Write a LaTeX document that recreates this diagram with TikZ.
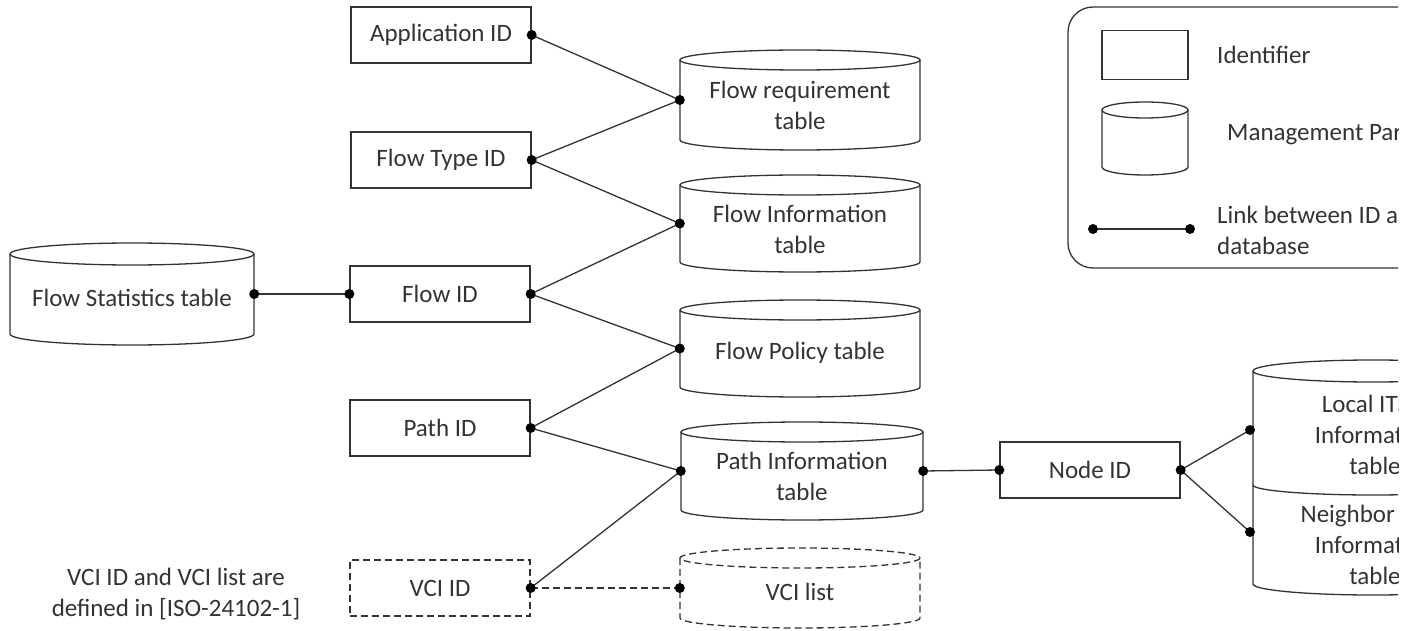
\documentclass[tikz,border=0pt]{standalone}
\usepackage{fontspec}
\setmainfont{Carlito}
\tikzset{
  ln/.style={line width=1.3pt, draw=black!80},
  dsh/.style={dash pattern=on 7pt off 4pt},
  idbox/.style={ln, rectangle, minimum width=180pt, minimum height=56pt, inner sep=0pt, text=black!80},
  txt/.style={align=center, text=black!80, inner sep=0pt},
  dot/.style={fill=black, draw=none},
}
\newcommand\mycyl[7][]{%
  \pgfmathsetmacro\cL{#3-#6/2}%
  \pgfmathsetmacro\cR{#3+#6/2}%
  \pgfmathsetmacro\cA{#4+#7}%
  \pgfmathsetmacro\cB{#5-#7}%
  \pgfmathsetmacro\cM{(#4+#5)/2}%
  \pgfmathsetmacro\cH{#5-#4}%
  \pgfmathsetmacro\cRx{#6/2}%
  \draw[ln,#1] (#3,\cA) ellipse[x radius=\cRx, y radius=#7];
  \draw[ln,#1] (\cL,\cA) -- (\cL,\cB) arc[start angle=180,end angle=0,x radius=\cRx,y radius=#7] -- (\cR,\cA);
  \node[inner sep=0pt, minimum width=#6pt, minimum height=\cH pt] (#2) at (#3,\cM) {};
}
\begin{document}
\begin{tikzpicture}[x=1pt,y=-1pt,font=\fontsize{25}{31}\selectfont]
\useasboundingbox (0,0) rectangle (1417,631);
\fill[white] (0,0) rectangle (1417,631);
\clip (0,0) rectangle (1398,631);

% identifier boxes
\node[idbox] (app) at (441,35) {Application ID};
\node[idbox] (ftype) at (441,160) {Flow Type ID};
\node[idbox] (flow) at (440,294) {Flow ID};
\node[idbox] (path) at (440,428) {Path ID};
\node[idbox, dsh] (vci) at (440,588) {VCI ID};
\node[idbox] (node) at (1090,470) {Node ID};

% databases
\mycyl{freq}{800}{50}{150}{240}{10}
\node[txt] at (800,105) {Flow requirement\\table};
\mycyl{finfo}{800}{175}{272}{240}{10}
\node[txt] at (800,229) {Flow Information\\table};
\mycyl{fpol}{800}{300}{397}{240}{10}
\node[txt] at (800,353) {Flow Policy table};
\mycyl{pinfo}{802}{422}{520}{242}{10}
\node[txt] at (802,476) {Path Information\\table};
\mycyl[dsh]{vlist}{800}{548}{628}{240}{10}
\node[txt] at (800,592) {VCI list};
\mycyl{fstat}{132}{243}{345}{244}{11}
\node[txt] at (132,298) {Flow Statistics table};
\mycyl{nodedb}{1373}{360}{595}{240}{11}
\draw[ln] (1253,485) arc[start angle=180,end angle=0,x radius=120,y radius=10];
\node[txt] at (1375,435) {Local ITS-S\\Information\\table};
\node[txt] at (1375,545) {Neighbor ITS-S\\Information\\table};
\coordinate (localdb) at (1250,430);
\coordinate (neighdb) at (1250,532);

% connectors
\draw[ln] (app.east) -- (freq.west);
\draw[ln] (ftype.east) -- (freq.west);
\draw[ln] (ftype.east) -- (finfo.west);
\draw[ln] (flow.east) -- (finfo.west);
\draw[ln] (flow.east) -- (fpol.west);
\draw[ln] (path.east) -- (fpol.west);
\draw[ln] (path.east) -- (pinfo.west);
\draw[ln] (vci.east) -- (pinfo.west);
\draw[ln, dsh] (vci.east) -- (vlist.west);
\draw[ln] (fstat.east) -- (flow.west);
\draw[ln] (pinfo.east) -- (node.west);
\draw[ln] (node.east) -- (localdb);
\draw[ln] (node.east) -- (neighdb);

% dots
\foreach \p in {app.east, ftype.east, flow.east, path.east, vci.east,
  freq.west, finfo.west, fpol.west, pinfo.west, vlist.west,
  fstat.east, flow.west, pinfo.east, node.west, node.east, localdb, neighdb}
  \fill[dot] (\p) circle[radius=5pt];

% note
\node[txt] at (176,594) {VCI ID and VCI list are\\defined in [ISO-24102-1]};

% legend
\draw[ln, rounded corners=25pt] (1068,7) rectangle (1520,268);
\node[ln, rectangle, minimum width=86pt, minimum height=49pt, inner sep=0pt] (legid) at (1145,55) {};
\node[txt, anchor=west] at (1217,55) {Identifier};
\mycyl{legdb}{1145}{102}{175}{86}{8}
\node[txt, anchor=west] at (1227,135) {Management Parameter};
\coordinate (la) at (1093,229);
\coordinate (lb) at (1190,229);
\draw[ln] (la) -- (lb);
\fill[dot] (la) circle[radius=5pt];
\fill[dot] (lb) circle[radius=5pt];
\node[txt, anchor=west, align=left] at (1217,230) {Link between ID and\\database};
\end{tikzpicture}
\end{document}
